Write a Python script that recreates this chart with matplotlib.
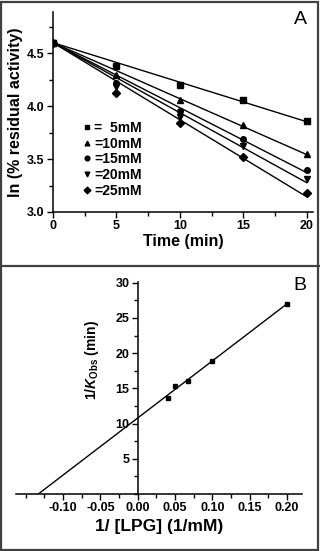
import numpy as np
import matplotlib
matplotlib.use('Agg')
import matplotlib.pyplot as plt
from matplotlib.ticker import MultipleLocator, FixedLocator
from matplotlib.patches import Rectangle
from matplotlib.lines import Line2D

plt.rcParams.update({
    'font.family': 'Liberation Sans',
    'font.weight': 'bold',
    'axes.labelweight': 'bold',
    'mathtext.fontset': 'custom',
    'mathtext.rm': 'Liberation Sans:bold',
    'mathtext.it': 'Liberation Sans:italic:bold',
    'axes.linewidth': 1.1,
    'xtick.major.width': 1.0,
    'ytick.major.width': 1.0,
    'xtick.minor.width': 1.0,
    'ytick.minor.width': 1.0,
})

# ---- panel A data: ln(% residual activity) vs time
time = [0, 5, 10, 15, 20]
conc_labels = ['=  5mM', '=10mM', '=15mM', '=20mM', '=25mM']
markers = ['s', '^', 'o', 'v', 'D']
y5 = [4.6, 4.38, 4.20, 4.06, 3.86]
y10 = [4.6, 4.29, 4.06, 3.82, 3.55]
y15 = [4.6, 4.22, 3.95, 3.69, 3.40]
y20 = [4.6, 4.18, 3.90, 3.62, 3.31]
y25 = [4.6, 4.12, 3.84, 3.52, 3.18]
series_a = [y5, y10, y15, y20, y25]

# ---- panel B data: 1/kobs vs 1/[LPG]
inv_lpg = [0.04, 0.05, 0.0667, 0.10, 0.20]
inv_kobs = [13.7, 15.3, 16.1, 18.9, 27.0]

W, H = 320, 551
fig = plt.figure(figsize=(W / 100, H / 100), dpi=100)

TICK_FS = 9

# ---------------------------------------------------------------- panel A
axA = fig.add_axes([53 / W, 1 - 212 / H, (313 - 53) / W, (212 - 12) / H])
t = np.array(time, dtype=float)
for ys, m, lab in zip(series_a, markers, conc_labels):
    ys = np.array(ys)
    # line through the common origin value, slope fitted to the points
    slope = np.sum(t * (ys - ys[0])) / np.sum(t * t)
    axA.plot([t[0], t[-1]], [ys[0], ys[0] + slope * t[-1]], color='black', lw=1.0)
    axA.plot(t, ys, ls='none', marker=m, ms=4, color='black', label=lab)
axA.set_xlim(0, 20.5)
axA.set_ylim(3.0, 4.89)
axA.xaxis.set_major_locator(MultipleLocator(5))
axA.xaxis.set_minor_locator(MultipleLocator(2.5))
axA.yaxis.set_major_locator(FixedLocator([3.0, 3.5, 4.0, 4.5]))
axA.yaxis.set_minor_locator(MultipleLocator(0.25))
axA.set_yticklabels(['3.0', '3.5', '4.0', '4.5'])
for s in ('top', 'right'):
    axA.spines[s].set_visible(False)
axA.tick_params(which='both', direction='out', labelsize=TICK_FS, pad=2)
axA.tick_params(which='major', length=4)
axA.tick_params(which='minor', length=3)
axA.set_xlabel('Time (min)', fontsize=11.5, labelpad=1)
axA.set_ylabel('ln (% residual activity)', fontsize=11.5, labelpad=3)
axA.legend(loc='upper left', bbox_to_anchor=(0.09, 0.49), frameon=False,
           fontsize=10, handlelength=0.5, handletextpad=0.3,
           labelspacing=0.12, borderpad=0, markerscale=0.85)
fig.text(300 / W, 1 - 20 / H, 'A', fontsize=14, fontweight='normal',
         ha='center', va='center')

# ---------------------------------------------------------------- panel B
axB = fig.add_axes([16 / W, 1 - 494 / H, (302 - 16) / W, (494 - 282) / H])
xb = np.array(inv_lpg)
yb = np.array(inv_kobs)
k, b0 = np.polyfit(xb, yb, 1)
x0 = -b0 / k
axB.plot([x0, xb.max()], [0, k * xb.max() + b0], color='black', lw=1.0)
axB.plot(xb, yb, ls='none', marker='s', ms=3.5, color='black')
axB.set_xlim(-0.163, 0.22)
axB.set_ylim(0, 30.1)
axB.spines['left'].set_position(('data', 0))
for s in ('top', 'right'):
    axB.spines[s].set_visible(False)
axB.xaxis.set_major_locator(FixedLocator([-0.10, -0.05, 0.0, 0.05, 0.10, 0.15, 0.20]))
axB.xaxis.set_minor_locator(MultipleLocator(0.025))
axB.set_xticklabels(['-0.10', '-0.05', '0.00', '0.05', '0.10', '0.15', '0.20'])
axB.yaxis.set_major_locator(FixedLocator([5, 10, 15, 20, 25, 30]))
axB.yaxis.set_minor_locator(MultipleLocator(2.5))
axB.tick_params(which='both', direction='out', labelsize=TICK_FS, pad=2)
axB.tick_params(which='major', length=4)
axB.tick_params(which='minor', length=3)
axB.set_xlabel('1/ [LPG] (1/mM)', fontsize=12.5, labelpad=3)
fig.text(92 / W, 1 - 360 / H, r'1/$\mathit{K}_{\mathrm{Obs}}$ (min)',
         fontsize=10, rotation=90, ha='center', va='center')
fig.text(300 / W, 1 - 285 / H, 'B', fontsize=14, fontweight='normal',
         ha='center', va='center')

# ---------------------------------------------------------------- frames
edge = '#404040'
fig.add_artist(Rectangle((1 / W, 1 / H), (W - 3) / W, (H - 3) / H,
                         transform=fig.transFigure, fill=False,
                         ec=edge, lw=1.6))
fig.add_artist(Line2D([0, 1], [1 - 266 / H] * 2, transform=fig.transFigure,
                      color=edge, lw=1.6))

fig.savefig('out.png', dpi=100)
